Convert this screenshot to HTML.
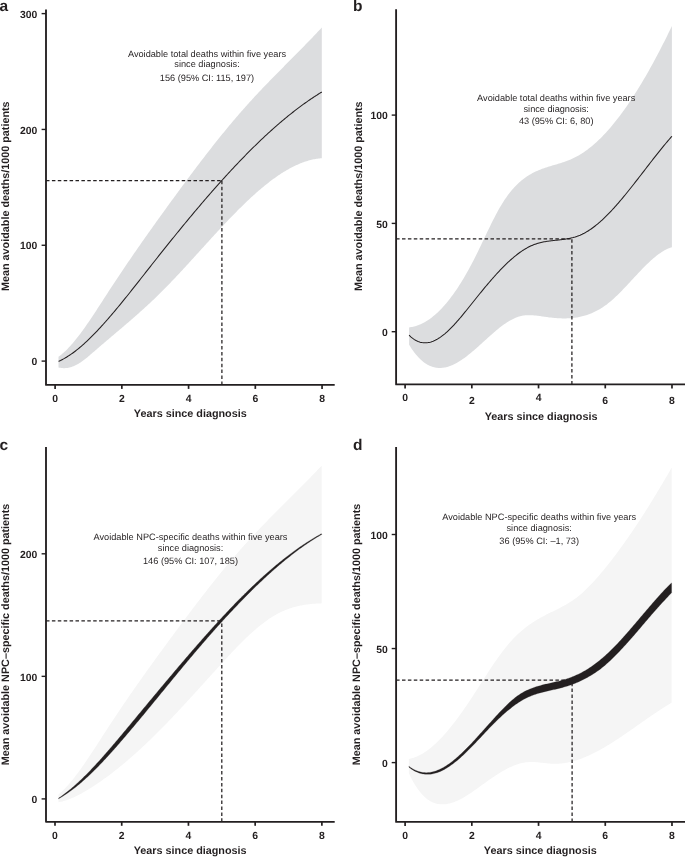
<!DOCTYPE html>
<html><head><meta charset="utf-8"><style>
html,body{margin:0;padding:0;background:#fff;}
svg{display:block;}
svg{will-change:transform;}
text{font-family:"Liberation Sans",sans-serif;fill:#231f20;text-rendering:geometricPrecision;}
.tk{font-size:10.4px;font-weight:bold;}
.ti{font-size:10.8px;font-weight:bold;}
.an{font-size:9.2px;}
.pl{font-size:15.5px;font-weight:bold;}
</style></head><body>
<svg width="685" height="857" viewBox="0 0 685 857">
<rect width="685" height="857" fill="#fff"/>
<path d="M58.50,356.77 L59.50,356.04 L60.50,355.26 L61.50,354.46 L62.50,353.61 L63.50,352.73 L64.50,351.82 L65.50,350.88 L66.50,349.91 L67.50,348.90 L68.50,347.86 L69.50,346.80 L70.50,345.71 L71.50,344.58 L72.50,343.44 L73.50,342.26 L74.50,341.07 L75.50,339.84 L76.50,338.60 L77.50,337.33 L78.50,336.04 L79.50,334.73 L80.50,333.41 L81.50,332.06 L82.50,330.69 L83.50,329.31 L84.50,327.91 L85.50,326.49 L86.50,325.06 L87.50,323.62 L88.50,322.16 L89.50,320.69 L90.50,319.21 L91.50,317.72 L92.50,316.22 L93.50,314.71 L94.50,313.20 L95.50,311.67 L96.50,310.14 L97.50,308.61 L98.50,307.07 L99.50,305.52 L100.50,303.98 L101.50,302.43 L102.50,300.88 L103.50,299.33 L104.50,297.78 L105.50,296.23 L106.50,294.68 L107.50,293.14 L108.50,291.60 L109.50,290.07 L110.50,288.54 L111.50,287.01 L112.50,285.49 L113.50,283.97 L114.50,282.45 L115.50,280.94 L116.50,279.43 L117.50,277.93 L118.50,276.43 L119.50,274.93 L120.50,273.43 L121.50,271.94 L122.50,270.46 L123.50,268.97 L124.50,267.49 L125.50,266.02 L126.50,264.54 L127.50,263.07 L128.50,261.61 L129.50,260.14 L130.50,258.68 L131.50,257.22 L132.50,255.77 L133.50,254.32 L134.50,252.87 L135.50,251.42 L136.50,249.98 L137.50,248.54 L138.50,247.10 L139.50,245.66 L140.50,244.23 L141.50,242.80 L142.50,241.37 L143.50,239.95 L144.50,238.52 L145.50,237.10 L146.50,235.68 L147.50,234.27 L148.50,232.85 L149.50,231.44 L150.50,230.03 L151.50,228.63 L152.50,227.22 L153.50,225.82 L154.50,224.42 L155.50,223.02 L156.50,221.62 L157.50,220.23 L158.50,218.84 L159.50,217.44 L160.50,216.05 L161.50,214.67 L162.50,213.28 L163.50,211.90 L164.50,210.51 L165.50,209.13 L166.50,207.75 L167.50,206.37 L168.50,204.99 L169.50,203.62 L170.50,202.24 L171.50,200.87 L172.50,199.50 L173.50,198.13 L174.50,196.76 L175.50,195.39 L176.50,194.02 L177.50,192.66 L178.50,191.30 L179.50,189.94 L180.50,188.58 L181.50,187.22 L182.50,185.86 L183.50,184.51 L184.50,183.16 L185.50,181.81 L186.50,180.46 L187.50,179.12 L188.50,177.78 L189.50,176.44 L190.50,175.10 L191.50,173.76 L192.50,172.43 L193.50,171.10 L194.50,169.77 L195.50,168.45 L196.50,167.12 L197.50,165.80 L198.50,164.49 L199.50,163.17 L200.50,161.86 L201.50,160.55 L202.50,159.25 L203.50,157.95 L204.50,156.65 L205.50,155.35 L206.50,154.06 L207.50,152.77 L208.50,151.48 L209.50,150.20 L210.50,148.92 L211.50,147.65 L212.50,146.37 L213.50,145.11 L214.50,143.84 L215.50,142.58 L216.50,141.32 L217.50,140.07 L218.50,138.82 L219.50,137.58 L220.50,136.33 L221.50,135.10 L222.50,133.86 L223.50,132.63 L224.50,131.41 L225.50,130.19 L226.50,128.97 L227.50,127.76 L228.50,126.55 L229.50,125.35 L230.50,124.15 L231.50,122.96 L232.50,121.77 L233.50,120.58 L234.50,119.40 L235.50,118.23 L236.50,117.06 L237.50,115.90 L238.50,114.74 L239.50,113.58 L240.50,112.43 L241.50,111.29 L242.50,110.15 L243.50,109.01 L244.50,107.88 L245.50,106.76 L246.50,105.64 L247.50,104.53 L248.50,103.42 L249.50,102.32 L250.50,101.22 L251.50,100.13 L252.50,99.04 L253.50,97.95 L254.50,96.87 L255.50,95.80 L256.50,94.73 L257.50,93.66 L258.50,92.59 L259.50,91.53 L260.50,90.48 L261.50,89.42 L262.50,88.37 L263.50,87.33 L264.50,86.28 L265.50,85.24 L266.50,84.21 L267.50,83.17 L268.50,82.14 L269.50,81.11 L270.50,80.08 L271.50,79.06 L272.50,78.03 L273.50,77.01 L274.50,75.99 L275.50,74.97 L276.50,73.96 L277.50,72.94 L278.50,71.93 L279.50,70.92 L280.50,69.91 L281.50,68.90 L282.50,67.89 L283.50,66.88 L284.50,65.87 L285.50,64.86 L286.50,63.86 L287.50,62.85 L288.50,61.84 L289.50,60.84 L290.50,59.83 L291.50,58.82 L292.50,57.81 L293.50,56.81 L294.50,55.80 L295.50,54.79 L296.50,53.78 L297.50,52.77 L298.50,51.75 L299.50,50.74 L300.50,49.72 L301.50,48.71 L302.50,47.69 L303.50,46.67 L304.50,45.64 L305.50,44.62 L306.50,43.59 L307.50,42.56 L308.50,41.53 L309.50,40.50 L310.50,39.46 L311.50,38.42 L312.50,37.38 L313.50,36.34 L314.50,35.29 L315.50,34.24 L316.50,33.18 L317.50,32.12 L318.50,31.06 L319.50,29.99 L320.50,28.92 L321.50,27.85 L321.80,27.53 L321.80,158.20 L321.50,158.22 L320.50,158.31 L319.50,158.41 L318.50,158.53 L317.50,158.67 L316.50,158.82 L315.50,158.99 L314.50,159.17 L313.50,159.37 L312.50,159.59 L311.50,159.82 L310.50,160.07 L309.50,160.33 L308.50,160.61 L307.50,160.90 L306.50,161.21 L305.50,161.54 L304.50,161.87 L303.50,162.23 L302.50,162.59 L301.50,162.97 L300.50,163.37 L299.50,163.78 L298.50,164.20 L297.50,164.64 L296.50,165.09 L295.50,165.55 L294.50,166.03 L293.50,166.52 L292.50,167.02 L291.50,167.54 L290.50,168.07 L289.50,168.61 L288.50,169.16 L287.50,169.73 L286.50,170.30 L285.50,170.89 L284.50,171.50 L283.50,172.11 L282.50,172.73 L281.50,173.37 L280.50,174.02 L279.50,174.68 L278.50,175.35 L277.50,176.03 L276.50,176.72 L275.50,177.42 L274.50,178.14 L273.50,178.86 L272.50,179.60 L271.50,180.34 L270.50,181.09 L269.50,181.86 L268.50,182.63 L267.50,183.41 L266.50,184.20 L265.50,185.00 L264.50,185.81 L263.50,186.63 L262.50,187.46 L261.50,188.30 L260.50,189.14 L259.50,190.00 L258.50,190.86 L257.50,191.73 L256.50,192.61 L255.50,193.49 L254.50,194.39 L253.50,195.29 L252.50,196.20 L251.50,197.11 L250.50,198.04 L249.50,198.97 L248.50,199.90 L247.50,200.85 L246.50,201.80 L245.50,202.75 L244.50,203.72 L243.50,204.68 L242.50,205.66 L241.50,206.64 L240.50,207.63 L239.50,208.62 L238.50,209.62 L237.50,210.62 L236.50,211.63 L235.50,212.64 L234.50,213.66 L233.50,214.68 L232.50,215.71 L231.50,216.74 L230.50,217.78 L229.50,218.82 L228.50,219.87 L227.50,220.91 L226.50,221.97 L225.50,223.02 L224.50,224.08 L223.50,225.15 L222.50,226.21 L221.50,227.28 L220.50,228.35 L219.50,229.43 L218.50,230.51 L217.50,231.59 L216.50,232.67 L215.50,233.76 L214.50,234.84 L213.50,235.93 L212.50,237.02 L211.50,238.12 L210.50,239.21 L209.50,240.31 L208.50,241.40 L207.50,242.50 L206.50,243.60 L205.50,244.70 L204.50,245.80 L203.50,246.90 L202.50,248.00 L201.50,249.11 L200.50,250.21 L199.50,251.31 L198.50,252.41 L197.50,253.51 L196.50,254.62 L195.50,255.72 L194.50,256.82 L193.50,257.92 L192.50,259.02 L191.50,260.11 L190.50,261.21 L189.50,262.30 L188.50,263.40 L187.50,264.49 L186.50,265.58 L185.50,266.67 L184.50,267.75 L183.50,268.84 L182.50,269.92 L181.50,271.00 L180.50,272.07 L179.50,273.15 L178.50,274.22 L177.50,275.29 L176.50,276.35 L175.50,277.41 L174.50,278.47 L173.50,279.52 L172.50,280.57 L171.50,281.62 L170.50,282.66 L169.50,283.70 L168.50,284.73 L167.50,285.76 L166.50,286.79 L165.50,287.81 L164.50,288.83 L163.50,289.84 L162.50,290.84 L161.50,291.84 L160.50,292.84 L159.50,293.82 L158.50,294.81 L157.50,295.79 L156.50,296.76 L155.50,297.72 L154.50,298.68 L153.50,299.64 L152.50,300.59 L151.50,301.53 L150.50,302.47 L149.50,303.41 L148.50,304.34 L147.50,305.26 L146.50,306.18 L145.50,307.10 L144.50,308.01 L143.50,308.92 L142.50,309.82 L141.50,310.73 L140.50,311.62 L139.50,312.51 L138.50,313.40 L137.50,314.29 L136.50,315.17 L135.50,316.05 L134.50,316.93 L133.50,317.80 L132.50,318.68 L131.50,319.54 L130.50,320.41 L129.50,321.28 L128.50,322.14 L127.50,323.00 L126.50,323.86 L125.50,324.71 L124.50,325.57 L123.50,326.42 L122.50,327.27 L121.50,328.13 L120.50,328.98 L119.50,329.82 L118.50,330.67 L117.50,331.52 L116.50,332.37 L115.50,333.21 L114.50,334.06 L113.50,334.91 L112.50,335.75 L111.50,336.60 L110.50,337.45 L109.50,338.29 L108.50,339.14 L107.50,339.99 L106.50,340.84 L105.50,341.69 L104.50,342.54 L103.50,343.39 L102.50,344.24 L101.50,345.10 L100.50,345.95 L99.50,346.81 L98.50,347.67 L97.50,348.53 L96.50,349.40 L95.50,350.26 L94.50,351.13 L93.50,352.00 L92.50,352.87 L91.50,353.74 L90.50,354.61 L89.50,355.46 L88.50,356.31 L87.50,357.15 L86.50,357.97 L85.50,358.77 L84.50,359.56 L83.50,360.32 L82.50,361.05 L81.50,361.77 L80.50,362.45 L79.50,363.10 L78.50,363.71 L77.50,364.29 L76.50,364.83 L75.50,365.33 L74.50,365.79 L73.50,366.21 L72.50,366.59 L71.50,366.93 L70.50,367.23 L69.50,367.49 L68.50,367.71 L67.50,367.88 L66.50,368.01 L65.50,368.10 L64.50,368.14 L63.50,368.14 L62.50,368.10 L61.50,368.01 L60.50,367.87 L59.50,367.69 L58.50,367.46 Z" fill="#dcdddf"/>
<path d="M58.50,361.37 L59.50,360.92 L60.50,360.45 L61.50,359.95 L62.50,359.44 L63.50,358.91 L64.50,358.35 L65.50,357.77 L66.50,357.18 L67.50,356.56 L68.50,355.93 L69.50,355.27 L70.50,354.60 L71.50,353.91 L72.50,353.20 L73.50,352.47 L74.50,351.73 L75.50,350.96 L76.50,350.18 L77.50,349.39 L78.50,348.58 L79.50,347.75 L80.50,346.91 L81.50,346.05 L82.50,345.18 L83.50,344.29 L84.50,343.39 L85.50,342.47 L86.50,341.54 L87.50,340.60 L88.50,339.64 L89.50,338.68 L90.50,337.70 L91.50,336.71 L92.50,335.70 L93.50,334.69 L94.50,333.66 L95.50,332.63 L96.50,331.58 L97.50,330.53 L98.50,329.46 L99.50,328.39 L100.50,327.30 L101.50,326.21 L102.50,325.11 L103.50,324.00 L104.50,322.88 L105.50,321.76 L106.50,320.63 L107.50,319.49 L108.50,318.34 L109.50,317.19 L110.50,316.03 L111.50,314.86 L112.50,313.69 L113.50,312.51 L114.50,311.33 L115.50,310.14 L116.50,308.94 L117.50,307.74 L118.50,306.53 L119.50,305.32 L120.50,304.10 L121.50,302.88 L122.50,301.65 L123.50,300.42 L124.50,299.19 L125.50,297.95 L126.50,296.71 L127.50,295.47 L128.50,294.22 L129.50,292.97 L130.50,291.71 L131.50,290.45 L132.50,289.20 L133.50,287.93 L134.50,286.67 L135.50,285.40 L136.50,284.14 L137.50,282.87 L138.50,281.60 L139.50,280.33 L140.50,279.05 L141.50,277.78 L142.50,276.51 L143.50,275.23 L144.50,273.96 L145.50,272.69 L146.50,271.41 L147.50,270.14 L148.50,268.87 L149.50,267.59 L150.50,266.32 L151.50,265.05 L152.50,263.79 L153.50,262.52 L154.50,261.25 L155.50,259.99 L156.50,258.72 L157.50,257.46 L158.50,256.20 L159.50,254.94 L160.50,253.68 L161.50,252.43 L162.50,251.17 L163.50,249.92 L164.50,248.66 L165.50,247.41 L166.50,246.16 L167.50,244.92 L168.50,243.67 L169.50,242.43 L170.50,241.18 L171.50,239.94 L172.50,238.70 L173.50,237.47 L174.50,236.23 L175.50,235.00 L176.50,233.77 L177.50,232.54 L178.50,231.31 L179.50,230.08 L180.50,228.86 L181.50,227.64 L182.50,226.42 L183.50,225.20 L184.50,223.99 L185.50,222.77 L186.50,221.56 L187.50,220.35 L188.50,219.15 L189.50,217.94 L190.50,216.74 L191.50,215.54 L192.50,214.35 L193.50,213.15 L194.50,211.96 L195.50,210.77 L196.50,209.58 L197.50,208.40 L198.50,207.22 L199.50,206.04 L200.50,204.86 L201.50,203.69 L202.50,202.52 L203.50,201.35 L204.50,200.19 L205.50,199.03 L206.50,197.87 L207.50,196.71 L208.50,195.56 L209.50,194.41 L210.50,193.26 L211.50,192.11 L212.50,190.97 L213.50,189.84 L214.50,188.70 L215.50,187.57 L216.50,186.44 L217.50,185.31 L218.50,184.19 L219.50,183.07 L220.50,181.96 L221.50,180.85 L222.50,179.74 L223.50,178.63 L224.50,177.53 L225.50,176.43 L226.50,175.34 L227.50,174.25 L228.50,173.16 L229.50,172.07 L230.50,170.99 L231.50,169.92 L232.50,168.84 L233.50,167.77 L234.50,166.71 L235.50,165.65 L236.50,164.59 L237.50,163.54 L238.50,162.49 L239.50,161.44 L240.50,160.40 L241.50,159.36 L242.50,158.33 L243.50,157.30 L244.50,156.27 L245.50,155.25 L246.50,154.23 L247.50,153.22 L248.50,152.21 L249.50,151.21 L250.50,150.21 L251.50,149.21 L252.50,148.22 L253.50,147.23 L254.50,146.25 L255.50,145.27 L256.50,144.30 L257.50,143.33 L258.50,142.36 L259.50,141.40 L260.50,140.45 L261.50,139.49 L262.50,138.55 L263.50,137.61 L264.50,136.67 L265.50,135.74 L266.50,134.81 L267.50,133.89 L268.50,132.97 L269.50,132.06 L270.50,131.15 L271.50,130.25 L272.50,129.35 L273.50,128.46 L274.50,127.57 L275.50,126.69 L276.50,125.81 L277.50,124.94 L278.50,124.08 L279.50,123.21 L280.50,122.36 L281.50,121.51 L282.50,120.66 L283.50,119.82 L284.50,118.99 L285.50,118.16 L286.50,117.33 L287.50,116.52 L288.50,115.70 L289.50,114.90 L290.50,114.09 L291.50,113.30 L292.50,112.51 L293.50,111.72 L294.50,110.95 L295.50,110.17 L296.50,109.41 L297.50,108.64 L298.50,107.89 L299.50,107.14 L300.50,106.39 L301.50,105.66 L302.50,104.93 L303.50,104.20 L304.50,103.48 L305.50,102.77 L306.50,102.06 L307.50,101.36 L308.50,100.66 L309.50,99.97 L310.50,99.29 L311.50,98.61 L312.50,97.94 L313.50,97.28 L314.50,96.62 L315.50,95.97 L316.50,95.33 L317.50,94.69 L318.50,94.06 L319.50,93.43 L320.50,92.82 L321.50,92.20 L321.80,92.02" fill="none" stroke="#231f20" stroke-width="1.05"/>
<path d="M46.00,180.50 H221.90" fill="none" stroke="#231f20" stroke-width="1.25" stroke-dasharray="3.5 2.4"/>
<path d="M221.90,384.90 V180.50" fill="none" stroke="#231f20" stroke-width="1.25" stroke-dasharray="3.5 2.4"/>
<path d="M46.00,9.60 V384.90 H334.70" fill="none" stroke="#231f20" stroke-width="1.85" stroke-linejoin="round"/>
<path d="M41.60,361.10 H46.00" stroke="#231f20" stroke-width="1.4"/>
<text x="37.40" y="365.30" class="tk" text-anchor="end">0</text>
<path d="M41.60,245.27 H46.00" stroke="#231f20" stroke-width="1.4"/>
<text x="37.40" y="249.47" class="tk" text-anchor="end">100</text>
<path d="M41.60,129.44 H46.00" stroke="#231f20" stroke-width="1.4"/>
<text x="37.40" y="133.64" class="tk" text-anchor="end">200</text>
<path d="M41.60,13.61 H46.00" stroke="#231f20" stroke-width="1.4"/>
<text x="37.40" y="17.81" class="tk" text-anchor="end">300</text>
<path d="M55.10,384.90 V388.90" stroke="#231f20" stroke-width="1.7"/>
<text x="55.10" y="401.80" class="tk" text-anchor="middle">0</text>
<path d="M121.84,384.90 V388.90" stroke="#231f20" stroke-width="1.7"/>
<text x="121.84" y="401.80" class="tk" text-anchor="middle">2</text>
<path d="M188.58,384.90 V388.90" stroke="#231f20" stroke-width="1.7"/>
<text x="188.58" y="401.80" class="tk" text-anchor="middle">4</text>
<path d="M255.32,384.90 V388.90" stroke="#231f20" stroke-width="1.7"/>
<text x="255.32" y="401.80" class="tk" text-anchor="middle">6</text>
<path d="M322.06,384.90 V388.90" stroke="#231f20" stroke-width="1.7"/>
<text x="322.06" y="401.80" class="tk" text-anchor="middle">8</text>
<text x="190.28" y="416.90" class="ti" text-anchor="middle">Years since diagnosis</text>
<text transform="translate(9.00,196.20) rotate(-90)" class="ti" text-anchor="middle">Mean avoidable deaths/1000 patients</text>
<text x="207.00" y="56.70" class="an" text-anchor="middle">Avoidable total deaths within five years</text>
<text x="207.00" y="67.40" class="an" text-anchor="middle">since diagnosis:</text>
<text x="207.00" y="80.70" class="an" text-anchor="middle">156 (95% CI: 115, 197)</text>
<text x="-0.60" y="10.90" class="pl">a</text>
<path d="M409.10,327.39 L410.10,327.27 L411.10,327.12 L412.10,326.94 L413.10,326.73 L414.10,326.50 L415.10,326.23 L416.10,325.93 L417.10,325.60 L418.10,325.25 L419.10,324.86 L420.10,324.44 L421.10,324.00 L422.10,323.52 L423.10,323.02 L424.10,322.49 L425.10,321.92 L426.10,321.33 L427.10,320.71 L428.10,320.06 L429.10,319.38 L430.10,318.67 L431.10,317.93 L432.10,317.16 L433.10,316.37 L434.10,315.54 L435.10,314.69 L436.10,313.80 L437.10,312.89 L438.10,311.95 L439.10,310.98 L440.10,309.98 L441.10,308.95 L442.10,307.90 L443.10,306.81 L444.10,305.70 L445.10,304.56 L446.10,303.39 L447.10,302.19 L448.10,300.96 L449.10,299.71 L450.10,298.42 L451.10,297.11 L452.10,295.77 L453.10,294.40 L454.10,293.01 L455.10,291.58 L456.10,290.13 L457.10,288.65 L458.10,287.14 L459.10,285.60 L460.10,284.04 L461.10,282.45 L462.10,280.82 L463.10,279.18 L464.10,277.50 L465.10,275.80 L466.10,274.07 L467.10,272.31 L468.10,270.52 L469.10,268.71 L470.10,266.86 L471.10,264.99 L472.10,263.10 L473.10,261.17 L474.10,259.22 L475.10,257.24 L476.10,255.24 L477.10,253.21 L478.10,251.17 L479.10,249.10 L480.10,247.03 L481.10,244.94 L482.10,242.84 L483.10,240.74 L484.10,238.64 L485.10,236.53 L486.10,234.44 L487.10,232.34 L488.10,230.26 L489.10,228.19 L490.10,226.13 L491.10,224.10 L492.10,222.08 L493.10,220.09 L494.10,218.13 L495.10,216.19 L496.10,214.29 L497.10,212.42 L498.10,210.60 L499.10,208.81 L500.10,207.07 L501.10,205.38 L502.10,203.73 L503.10,202.14 L504.10,200.59 L505.10,199.09 L506.10,197.64 L507.10,196.23 L508.10,194.87 L509.10,193.55 L510.10,192.28 L511.10,191.05 L512.10,189.85 L513.10,188.70 L514.10,187.59 L515.10,186.52 L516.10,185.48 L517.10,184.49 L518.10,183.52 L519.10,182.60 L520.10,181.71 L521.10,180.85 L522.10,180.02 L523.10,179.23 L524.10,178.46 L525.10,177.73 L526.10,177.03 L527.10,176.35 L528.10,175.70 L529.10,175.08 L530.10,174.48 L531.10,173.90 L532.10,173.35 L533.10,172.82 L534.10,172.31 L535.10,171.82 L536.10,171.35 L537.10,170.90 L538.10,170.46 L539.10,170.04 L540.10,169.64 L541.10,169.25 L542.10,168.87 L543.10,168.51 L544.10,168.15 L545.10,167.81 L546.10,167.48 L547.10,167.15 L548.10,166.83 L549.10,166.52 L550.10,166.21 L551.10,165.91 L552.10,165.61 L553.10,165.31 L554.10,165.02 L555.10,164.72 L556.10,164.42 L557.10,164.13 L558.10,163.83 L559.10,163.52 L560.10,163.21 L561.10,162.90 L562.10,162.58 L563.10,162.25 L564.10,161.91 L565.10,161.57 L566.10,161.21 L567.10,160.84 L568.10,160.46 L569.10,160.07 L570.10,159.66 L571.10,159.24 L572.10,158.79 L573.10,158.34 L574.10,157.86 L575.10,157.37 L576.10,156.85 L577.10,156.32 L578.10,155.76 L579.10,155.19 L580.10,154.59 L581.10,153.98 L582.10,153.34 L583.10,152.69 L584.10,152.01 L585.10,151.32 L586.10,150.61 L587.10,149.88 L588.10,149.12 L589.10,148.35 L590.10,147.57 L591.10,146.76 L592.10,145.93 L593.10,145.08 L594.10,144.22 L595.10,143.34 L596.10,142.43 L597.10,141.51 L598.10,140.57 L599.10,139.62 L600.10,138.64 L601.10,137.65 L602.10,136.64 L603.10,135.61 L604.10,134.56 L605.10,133.49 L606.10,132.41 L607.10,131.31 L608.10,130.19 L609.10,129.05 L610.10,127.90 L611.10,126.73 L612.10,125.54 L613.10,124.34 L614.10,123.11 L615.10,121.87 L616.10,120.62 L617.10,119.34 L618.10,118.05 L619.10,116.74 L620.10,115.42 L621.10,114.08 L622.10,112.72 L623.10,111.35 L624.10,109.96 L625.10,108.55 L626.10,107.13 L627.10,105.69 L628.10,104.24 L629.10,102.77 L630.10,101.28 L631.10,99.78 L632.10,98.26 L633.10,96.73 L634.10,95.18 L635.10,93.62 L636.10,92.04 L637.10,90.44 L638.10,88.83 L639.10,87.21 L640.10,85.57 L641.10,83.91 L642.10,82.24 L643.10,80.56 L644.10,78.86 L645.10,77.14 L646.10,75.42 L647.10,73.67 L648.10,71.91 L649.10,70.14 L650.10,68.36 L651.10,66.56 L652.10,64.74 L653.10,62.91 L654.10,61.07 L655.10,59.21 L656.10,57.34 L657.10,55.46 L658.10,53.56 L659.10,51.65 L660.10,49.73 L661.10,47.79 L662.10,45.84 L663.10,43.87 L664.10,41.89 L665.10,39.90 L666.10,37.90 L667.10,35.88 L668.10,33.85 L669.10,31.81 L670.10,29.76 L671.10,27.69 L671.90,26.03 L671.90,247.23 L671.10,247.48 L670.10,247.82 L669.10,248.19 L668.10,248.61 L667.10,249.06 L666.10,249.54 L665.10,250.06 L664.10,250.61 L663.10,251.20 L662.10,251.81 L661.10,252.46 L660.10,253.14 L659.10,253.84 L658.10,254.57 L657.10,255.33 L656.10,256.11 L655.10,256.91 L654.10,257.74 L653.10,258.59 L652.10,259.46 L651.10,260.36 L650.10,261.27 L649.10,262.20 L648.10,263.14 L647.10,264.10 L646.10,265.08 L645.10,266.07 L644.10,267.07 L643.10,268.09 L642.10,269.12 L641.10,270.15 L640.10,271.20 L639.10,272.25 L638.10,273.31 L637.10,274.38 L636.10,275.45 L635.10,276.53 L634.10,277.61 L633.10,278.69 L632.10,279.77 L631.10,280.85 L630.10,281.93 L629.10,283.01 L628.10,284.08 L627.10,285.15 L626.10,286.22 L625.10,287.28 L624.10,288.33 L623.10,289.37 L622.10,290.41 L621.10,291.43 L620.10,292.44 L619.10,293.45 L618.10,294.43 L617.10,295.41 L616.10,296.36 L615.10,297.31 L614.10,298.23 L613.10,299.14 L612.10,300.02 L611.10,300.89 L610.10,301.74 L609.10,302.56 L608.10,303.36 L607.10,304.14 L606.10,304.89 L605.10,305.61 L604.10,306.32 L603.10,306.99 L602.10,307.65 L601.10,308.28 L600.10,308.89 L599.10,309.48 L598.10,310.04 L597.10,310.59 L596.10,311.11 L595.10,311.61 L594.10,312.09 L593.10,312.55 L592.10,312.99 L591.10,313.41 L590.10,313.81 L589.10,314.19 L588.10,314.55 L587.10,314.89 L586.10,315.22 L585.10,315.53 L584.10,315.82 L583.10,316.09 L582.10,316.34 L581.10,316.58 L580.10,316.81 L579.10,317.01 L578.10,317.20 L577.10,317.38 L576.10,317.54 L575.10,317.69 L574.10,317.82 L573.10,317.93 L572.10,318.04 L571.10,318.13 L570.10,318.21 L569.10,318.27 L568.10,318.32 L567.10,318.36 L566.10,318.39 L565.10,318.41 L564.10,318.41 L563.10,318.41 L562.10,318.39 L561.10,318.37 L560.10,318.33 L559.10,318.29 L558.10,318.23 L557.10,318.17 L556.10,318.10 L555.10,318.02 L554.10,317.93 L553.10,317.83 L552.10,317.73 L551.10,317.62 L550.10,317.51 L549.10,317.38 L548.10,317.25 L547.10,317.12 L546.10,316.98 L545.10,316.84 L544.10,316.69 L543.10,316.54 L542.10,316.39 L541.10,316.24 L540.10,316.10 L539.10,315.96 L538.10,315.82 L537.10,315.70 L536.10,315.58 L535.10,315.47 L534.10,315.38 L533.10,315.30 L532.10,315.24 L531.10,315.19 L530.10,315.16 L529.10,315.15 L528.10,315.16 L527.10,315.20 L526.10,315.26 L525.10,315.35 L524.10,315.47 L523.10,315.61 L522.10,315.79 L521.10,316.00 L520.10,316.24 L519.10,316.52 L518.10,316.83 L517.10,317.18 L516.10,317.56 L515.10,317.97 L514.10,318.41 L513.10,318.89 L512.10,319.39 L511.10,319.92 L510.10,320.48 L509.10,321.06 L508.10,321.67 L507.10,322.30 L506.10,322.96 L505.10,323.64 L504.10,324.34 L503.10,325.05 L502.10,325.79 L501.10,326.55 L500.10,327.32 L499.10,328.11 L498.10,328.92 L497.10,329.73 L496.10,330.57 L495.10,331.41 L494.10,332.26 L493.10,333.13 L492.10,334.00 L491.10,334.88 L490.10,335.77 L489.10,336.67 L488.10,337.57 L487.10,338.47 L486.10,339.38 L485.10,340.29 L484.10,341.20 L483.10,342.11 L482.10,343.02 L481.10,343.93 L480.10,344.84 L479.10,345.74 L478.10,346.64 L477.10,347.53 L476.10,348.41 L475.10,349.29 L474.10,350.16 L473.10,351.01 L472.10,351.86 L471.10,352.70 L470.10,353.52 L469.10,354.33 L468.10,355.12 L467.10,355.90 L466.10,356.67 L465.10,357.41 L464.10,358.14 L463.10,358.85 L462.10,359.54 L461.10,360.21 L460.10,360.86 L459.10,361.49 L458.10,362.09 L457.10,362.67 L456.10,363.22 L455.10,363.75 L454.10,364.25 L453.10,364.72 L452.10,365.17 L451.10,365.58 L450.10,365.97 L449.10,366.32 L448.10,366.64 L447.10,366.93 L446.10,367.19 L445.10,367.41 L444.10,367.59 L443.10,367.74 L442.10,367.85 L441.10,367.92 L440.10,367.96 L439.10,367.95 L438.10,367.90 L437.10,367.81 L436.10,367.68 L435.10,367.50 L434.10,367.28 L433.10,367.02 L432.10,366.70 L431.10,366.34 L430.10,365.94 L429.10,365.48 L428.10,364.97 L427.10,364.42 L426.10,363.81 L425.10,363.15 L424.10,362.43 L423.10,361.66 L422.10,360.84 L421.10,359.96 L420.10,359.02 L419.10,358.03 L418.10,356.98 L417.10,355.86 L416.10,354.69 L415.10,353.46 L414.10,352.16 L413.10,350.80 L412.10,349.38 L411.10,347.89 L410.10,346.33 L409.10,344.71 Z" fill="#dcdddf"/>
<path d="M409.10,335.20 L410.10,336.17 L411.10,337.07 L412.10,337.90 L413.10,338.66 L414.10,339.36 L415.10,339.98 L416.10,340.55 L417.10,341.04 L418.10,341.48 L419.10,341.85 L420.10,342.16 L421.10,342.41 L422.10,342.60 L423.10,342.73 L424.10,342.81 L425.10,342.84 L426.10,342.81 L427.10,342.72 L428.10,342.59 L429.10,342.40 L430.10,342.17 L431.10,341.89 L432.10,341.56 L433.10,341.18 L434.10,340.76 L435.10,340.30 L436.10,339.79 L437.10,339.24 L438.10,338.66 L439.10,338.03 L440.10,337.37 L441.10,336.67 L442.10,335.93 L443.10,335.16 L444.10,334.36 L445.10,333.53 L446.10,332.66 L447.10,331.77 L448.10,330.84 L449.10,329.89 L450.10,328.92 L451.10,327.92 L452.10,326.89 L453.10,325.85 L454.10,324.78 L455.10,323.69 L456.10,322.58 L457.10,321.46 L458.10,320.32 L459.10,319.16 L460.10,317.99 L461.10,316.80 L462.10,315.60 L463.10,314.40 L464.10,313.18 L465.10,311.95 L466.10,310.72 L467.10,309.48 L468.10,308.24 L469.10,306.99 L470.10,305.74 L471.10,304.48 L472.10,303.23 L473.10,301.98 L474.10,300.73 L475.10,299.48 L476.10,298.23 L477.10,296.99 L478.10,295.75 L479.10,294.52 L480.10,293.29 L481.10,292.06 L482.10,290.84 L483.10,289.62 L484.10,288.41 L485.10,287.21 L486.10,286.02 L487.10,284.83 L488.10,283.65 L489.10,282.47 L490.10,281.31 L491.10,280.15 L492.10,279.00 L493.10,277.87 L494.10,276.74 L495.10,275.62 L496.10,274.52 L497.10,273.42 L498.10,272.34 L499.10,271.27 L500.10,270.21 L501.10,269.16 L502.10,268.13 L503.10,267.11 L504.10,266.11 L505.10,265.12 L506.10,264.15 L507.10,263.19 L508.10,262.24 L509.10,261.32 L510.10,260.41 L511.10,259.51 L512.10,258.64 L513.10,257.78 L514.10,256.94 L515.10,256.12 L516.10,255.31 L517.10,254.53 L518.10,253.77 L519.10,253.02 L520.10,252.30 L521.10,251.60 L522.10,250.92 L523.10,250.26 L524.10,249.63 L525.10,249.02 L526.10,248.43 L527.10,247.86 L528.10,247.32 L529.10,246.80 L530.10,246.31 L531.10,245.84 L532.10,245.40 L533.10,244.98 L534.10,244.59 L535.10,244.23 L536.10,243.88 L537.10,243.56 L538.10,243.26 L539.10,242.99 L540.10,242.72 L541.10,242.48 L542.10,242.26 L543.10,242.05 L544.10,241.85 L545.10,241.67 L546.10,241.50 L547.10,241.34 L548.10,241.19 L549.10,241.05 L550.10,240.92 L551.10,240.79 L552.10,240.67 L553.10,240.56 L554.10,240.44 L555.10,240.34 L556.10,240.23 L557.10,240.12 L558.10,240.01 L559.10,239.90 L560.10,239.79 L561.10,239.67 L562.10,239.54 L563.10,239.41 L564.10,239.28 L565.10,239.13 L566.10,238.97 L567.10,238.81 L568.10,238.63 L569.10,238.44 L570.10,238.23 L571.10,238.01 L572.10,237.77 L573.10,237.52 L574.10,237.24 L575.10,236.95 L576.10,236.63 L577.10,236.30 L578.10,235.94 L579.10,235.56 L580.10,235.15 L581.10,234.71 L582.10,234.25 L583.10,233.76 L584.10,233.25 L585.10,232.71 L586.10,232.14 L587.10,231.55 L588.10,230.94 L589.10,230.30 L590.10,229.64 L591.10,228.95 L592.10,228.25 L593.10,227.52 L594.10,226.76 L595.10,225.99 L596.10,225.20 L597.10,224.38 L598.10,223.55 L599.10,222.69 L600.10,221.82 L601.10,220.93 L602.10,220.02 L603.10,219.09 L604.10,218.14 L605.10,217.18 L606.10,216.20 L607.10,215.20 L608.10,214.19 L609.10,213.16 L610.10,212.12 L611.10,211.06 L612.10,209.99 L613.10,208.91 L614.10,207.81 L615.10,206.70 L616.10,205.57 L617.10,204.44 L618.10,203.29 L619.10,202.13 L620.10,200.96 L621.10,199.78 L622.10,198.60 L623.10,197.40 L624.10,196.19 L625.10,194.97 L626.10,193.75 L627.10,192.52 L628.10,191.28 L629.10,190.03 L630.10,188.78 L631.10,187.52 L632.10,186.26 L633.10,184.99 L634.10,183.71 L635.10,182.44 L636.10,181.15 L637.10,179.87 L638.10,178.58 L639.10,177.29 L640.10,175.99 L641.10,174.70 L642.10,173.40 L643.10,172.11 L644.10,170.81 L645.10,169.51 L646.10,168.21 L647.10,166.92 L648.10,165.62 L649.10,164.33 L650.10,163.04 L651.10,161.75 L652.10,160.46 L653.10,159.18 L654.10,157.90 L655.10,156.63 L656.10,155.36 L657.10,154.09 L658.10,152.83 L659.10,151.58 L660.10,150.33 L661.10,149.09 L662.10,147.86 L663.10,146.63 L664.10,145.42 L665.10,144.21 L666.10,143.01 L667.10,141.82 L668.10,140.64 L669.10,139.47 L670.10,138.31 L671.10,137.16 L671.90,136.25" fill="none" stroke="#231f20" stroke-width="1.05"/>
<path d="M396.10,238.90 H571.90" fill="none" stroke="#231f20" stroke-width="1.25" stroke-dasharray="3.5 2.4"/>
<path d="M571.90,384.40 V238.90" fill="none" stroke="#231f20" stroke-width="1.25" stroke-dasharray="3.5 2.4"/>
<path d="M396.10,9.30 V384.40 H685.50" fill="none" stroke="#231f20" stroke-width="1.85" stroke-linejoin="round"/>
<path d="M391.70,331.70 H396.10" stroke="#231f20" stroke-width="1.4"/>
<text x="387.90" y="335.90" class="tk" text-anchor="end">0</text>
<path d="M391.70,223.40 H396.10" stroke="#231f20" stroke-width="1.4"/>
<text x="387.90" y="227.60" class="tk" text-anchor="end">50</text>
<path d="M391.70,115.10 H396.10" stroke="#231f20" stroke-width="1.4"/>
<text x="387.90" y="119.30" class="tk" text-anchor="end">100</text>
<path d="M405.10,384.40 V388.40" stroke="#231f20" stroke-width="1.7"/>
<text x="405.10" y="401.30" class="tk" text-anchor="middle">0</text>
<path d="M471.82,384.40 V388.40" stroke="#231f20" stroke-width="1.7"/>
<text x="471.82" y="404.10" class="tk" text-anchor="middle">2</text>
<path d="M538.54,384.40 V388.40" stroke="#231f20" stroke-width="1.7"/>
<text x="538.54" y="401.30" class="tk" text-anchor="middle">4</text>
<path d="M605.26,384.40 V388.40" stroke="#231f20" stroke-width="1.7"/>
<text x="605.26" y="404.10" class="tk" text-anchor="middle">6</text>
<path d="M671.98,384.40 V388.40" stroke="#231f20" stroke-width="1.7"/>
<text x="671.98" y="404.10" class="tk" text-anchor="middle">8</text>
<text x="541.04" y="419.70" class="ti" text-anchor="middle">Years since diagnosis</text>
<text transform="translate(362.20,196.20) rotate(-90)" class="ti" text-anchor="middle">Mean avoidable deaths/1000 patients</text>
<text x="556.20" y="101.30" class="an" text-anchor="middle">Avoidable total deaths within five years</text>
<text x="556.20" y="112.20" class="an" text-anchor="middle">since diagnosis:</text>
<text x="556.20" y="124.40" class="an" text-anchor="middle">43 (95% CI: 6, 80)</text>
<text x="353.00" y="11.00" class="pl">b</text>
<path d="M58.40,794.62 L59.40,793.76 L60.40,792.87 L61.40,791.94 L62.40,790.98 L63.40,790.00 L64.40,788.98 L65.40,787.94 L66.40,786.87 L67.40,785.77 L68.40,784.64 L69.40,783.49 L70.40,782.32 L71.40,781.12 L72.40,779.90 L73.40,778.66 L74.40,777.39 L75.40,776.10 L76.40,774.80 L77.40,773.47 L78.40,772.13 L79.40,770.77 L80.40,769.39 L81.40,768.00 L82.40,766.59 L83.40,765.16 L84.40,763.73 L85.40,762.28 L86.40,760.81 L87.40,759.34 L88.40,757.85 L89.40,756.36 L90.40,754.86 L91.40,753.34 L92.40,751.82 L93.40,750.30 L94.40,748.76 L95.40,747.23 L96.40,745.68 L97.40,744.14 L98.40,742.59 L99.40,741.03 L100.40,739.48 L101.40,737.93 L102.40,736.37 L103.40,734.82 L104.40,733.27 L105.40,731.72 L106.40,730.17 L107.40,728.63 L108.40,727.10 L109.40,725.56 L110.40,724.03 L111.40,722.51 L112.40,720.99 L113.40,719.48 L114.40,717.97 L115.40,716.46 L116.40,714.96 L117.40,713.46 L118.40,711.97 L119.40,710.48 L120.40,709.00 L121.40,707.52 L122.40,706.04 L123.40,704.57 L124.40,703.10 L125.40,701.63 L126.40,700.17 L127.40,698.71 L128.40,697.26 L129.40,695.81 L130.40,694.36 L131.40,692.92 L132.40,691.48 L133.40,690.04 L134.40,688.60 L135.40,687.17 L136.40,685.75 L137.40,684.32 L138.40,682.90 L139.40,681.48 L140.40,680.06 L141.40,678.65 L142.40,677.24 L143.40,675.83 L144.40,674.43 L145.40,673.02 L146.40,671.62 L147.40,670.23 L148.40,668.83 L149.40,667.44 L150.40,666.05 L151.40,664.66 L152.40,663.27 L153.40,661.89 L154.40,660.50 L155.40,659.12 L156.40,657.75 L157.40,656.37 L158.40,654.99 L159.40,653.62 L160.40,652.25 L161.40,650.88 L162.40,649.51 L163.40,648.14 L164.40,646.78 L165.40,645.41 L166.40,644.05 L167.40,642.69 L168.40,641.33 L169.40,639.97 L170.40,638.61 L171.40,637.26 L172.40,635.90 L173.40,634.54 L174.40,633.19 L175.40,631.84 L176.40,630.49 L177.40,629.14 L178.40,627.79 L179.40,626.45 L180.40,625.10 L181.40,623.76 L182.40,622.42 L183.40,621.08 L184.40,619.74 L185.40,618.40 L186.40,617.07 L187.40,615.74 L188.40,614.41 L189.40,613.08 L190.40,611.76 L191.40,610.43 L192.40,609.11 L193.40,607.80 L194.40,606.48 L195.40,605.17 L196.40,603.86 L197.40,602.55 L198.40,601.24 L199.40,599.94 L200.40,598.64 L201.40,597.34 L202.40,596.05 L203.40,594.76 L204.40,593.47 L205.40,592.18 L206.40,590.90 L207.40,589.62 L208.40,588.35 L209.40,587.08 L210.40,585.81 L211.40,584.54 L212.40,583.28 L213.40,582.02 L214.40,580.77 L215.40,579.52 L216.40,578.27 L217.40,577.03 L218.40,575.79 L219.40,574.55 L220.40,573.32 L221.40,572.09 L222.40,570.87 L223.40,569.65 L224.40,568.44 L225.40,567.22 L226.40,566.02 L227.40,564.82 L228.40,563.62 L229.40,562.42 L230.40,561.24 L231.40,560.05 L232.40,558.87 L233.40,557.70 L234.40,556.53 L235.40,555.36 L236.40,554.20 L237.40,553.05 L238.40,551.90 L239.40,550.75 L240.40,549.61 L241.40,548.48 L242.40,547.35 L243.40,546.23 L244.40,545.11 L245.40,543.99 L246.40,542.89 L247.40,541.78 L248.40,540.69 L249.40,539.59 L250.40,538.51 L251.40,537.42 L252.40,536.34 L253.40,535.27 L254.40,534.20 L255.40,533.14 L256.40,532.08 L257.40,531.02 L258.40,529.97 L259.40,528.92 L260.40,527.87 L261.40,526.83 L262.40,525.79 L263.40,524.75 L264.40,523.72 L265.40,522.69 L266.40,521.67 L267.40,520.64 L268.40,519.62 L269.40,518.60 L270.40,517.59 L271.40,516.57 L272.40,515.56 L273.40,514.55 L274.40,513.54 L275.40,512.54 L276.40,511.53 L277.40,510.53 L278.40,509.52 L279.40,508.52 L280.40,507.52 L281.40,506.52 L282.40,505.53 L283.40,504.53 L284.40,503.53 L285.40,502.54 L286.40,501.54 L287.40,500.54 L288.40,499.55 L289.40,498.55 L290.40,497.56 L291.40,496.56 L292.40,495.56 L293.40,494.56 L294.40,493.57 L295.40,492.57 L296.40,491.57 L297.40,490.57 L298.40,489.56 L299.40,488.56 L300.40,487.56 L301.40,486.55 L302.40,485.54 L303.40,484.53 L304.40,483.52 L305.40,482.50 L306.40,481.49 L307.40,480.47 L308.40,479.45 L309.40,478.42 L310.40,477.40 L311.40,476.37 L312.40,475.33 L313.40,474.30 L314.40,473.26 L315.40,472.22 L316.40,471.17 L317.40,470.12 L318.40,469.07 L319.40,468.01 L320.40,466.95 L321.40,465.88 L321.70,465.56 L321.70,603.35 L321.50,603.35 L320.50,603.39 L319.50,603.42 L318.50,603.47 L317.50,603.52 L316.50,603.58 L315.50,603.64 L314.50,603.71 L313.50,603.79 L312.50,603.87 L311.50,603.97 L310.50,604.07 L309.50,604.18 L308.50,604.30 L307.50,604.43 L306.50,604.56 L305.50,604.71 L304.50,604.87 L303.50,605.03 L302.50,605.21 L301.50,605.40 L300.50,605.60 L299.50,605.81 L298.50,606.03 L297.50,606.26 L296.50,606.50 L295.50,606.76 L294.50,607.03 L293.50,607.31 L292.50,607.61 L291.50,607.92 L290.50,608.24 L289.50,608.57 L288.50,608.92 L287.50,609.29 L286.50,609.67 L285.50,610.06 L284.50,610.47 L283.50,610.90 L282.50,611.34 L281.50,611.79 L280.50,612.27 L279.50,612.76 L278.50,613.26 L277.50,613.79 L276.50,614.33 L275.50,614.89 L274.50,615.46 L273.50,616.06 L272.50,616.67 L271.50,617.30 L270.50,617.94 L269.50,618.60 L268.50,619.28 L267.50,619.97 L266.50,620.68 L265.50,621.40 L264.50,622.14 L263.50,622.89 L262.50,623.66 L261.50,624.44 L260.50,625.23 L259.50,626.04 L258.50,626.86 L257.50,627.70 L256.50,628.54 L255.50,629.40 L254.50,630.27 L253.50,631.15 L252.50,632.04 L251.50,632.94 L250.50,633.86 L249.50,634.78 L248.50,635.72 L247.50,636.66 L246.50,637.62 L245.50,638.58 L244.50,639.55 L243.50,640.53 L242.50,641.52 L241.50,642.52 L240.50,643.52 L239.50,644.53 L238.50,645.55 L237.50,646.58 L236.50,647.61 L235.50,648.65 L234.50,649.69 L233.50,650.74 L232.50,651.80 L231.50,652.86 L230.50,653.93 L229.50,655.00 L228.50,656.07 L227.50,657.15 L226.50,658.23 L225.50,659.32 L224.50,660.41 L223.50,661.50 L222.50,662.59 L221.50,663.69 L220.50,664.78 L219.50,665.88 L218.50,666.98 L217.50,668.08 L216.50,669.19 L215.50,670.29 L214.50,671.39 L213.50,672.50 L212.50,673.60 L211.50,674.70 L210.50,675.81 L209.50,676.91 L208.50,678.02 L207.50,679.12 L206.50,680.23 L205.50,681.33 L204.50,682.44 L203.50,683.54 L202.50,684.65 L201.50,685.75 L200.50,686.85 L199.50,687.96 L198.50,689.06 L197.50,690.16 L196.50,691.26 L195.50,692.36 L194.50,693.46 L193.50,694.55 L192.50,695.65 L191.50,696.74 L190.50,697.84 L189.50,698.93 L188.50,700.02 L187.50,701.10 L186.50,702.19 L185.50,703.28 L184.50,704.36 L183.50,705.44 L182.50,706.52 L181.50,707.59 L180.50,708.67 L179.50,709.74 L178.50,710.81 L177.50,711.88 L176.50,712.94 L175.50,714.00 L174.50,715.06 L173.50,716.12 L172.50,717.17 L171.50,718.22 L170.50,719.27 L169.50,720.31 L168.50,721.35 L167.50,722.39 L166.50,723.42 L165.50,724.45 L164.50,725.48 L163.50,726.50 L162.50,727.52 L161.50,728.54 L160.50,729.55 L159.50,730.56 L158.50,731.56 L157.50,732.56 L156.50,733.56 L155.50,734.55 L154.50,735.54 L153.50,736.52 L152.50,737.50 L151.50,738.47 L150.50,739.44 L149.50,740.41 L148.50,741.37 L147.50,742.32 L146.50,743.28 L145.50,744.22 L144.50,745.17 L143.50,746.10 L142.50,747.04 L141.50,747.97 L140.50,748.89 L139.50,749.81 L138.50,750.72 L137.50,751.63 L136.50,752.54 L135.50,753.43 L134.50,754.33 L133.50,755.22 L132.50,756.10 L131.50,756.98 L130.50,757.85 L129.50,758.72 L128.50,759.58 L127.50,760.44 L126.50,761.29 L125.50,762.14 L124.50,762.98 L123.50,763.82 L122.50,764.65 L121.50,765.47 L120.50,766.29 L119.50,767.11 L118.50,767.91 L117.50,768.72 L116.50,769.51 L115.50,770.30 L114.50,771.09 L113.50,771.87 L112.50,772.64 L111.50,773.41 L110.50,774.17 L109.50,774.92 L108.50,775.67 L107.50,776.41 L106.50,777.15 L105.50,777.88 L104.50,778.60 L103.50,779.32 L102.50,780.03 L101.50,780.74 L100.50,781.44 L99.50,782.13 L98.50,782.81 L97.50,783.49 L96.50,784.16 L95.50,784.83 L94.50,785.49 L93.50,786.14 L92.50,786.79 L91.50,787.42 L90.50,788.06 L89.50,788.68 L88.50,789.30 L87.50,789.91 L86.50,790.51 L85.50,791.10 L84.50,791.69 L83.50,792.26 L82.50,792.83 L81.50,793.39 L80.50,793.93 L79.50,794.46 L78.50,794.98 L77.50,795.49 L76.50,795.99 L75.50,796.47 L74.50,796.95 L73.50,797.40 L72.50,797.84 L71.50,798.27 L70.50,798.68 L69.50,799.08 L68.50,799.46 L67.50,799.82 L66.50,800.17 L65.50,800.50 L64.50,800.81 L63.50,801.10 L62.50,801.38 L61.50,801.63 L60.50,801.87 L59.50,802.08 L58.50,802.28 Z" fill="#f5f5f5"/>
<path d="M58.46,798.18 L59.44,797.54 L60.42,796.88 L61.40,796.21 L62.38,795.52 L63.35,794.81 L64.33,794.10 L65.31,793.37 L66.28,792.62 L67.26,791.86 L68.23,791.08 L69.20,790.29 L70.16,789.48 L71.13,788.66 L72.10,787.83 L73.07,786.99 L74.04,786.13 L75.01,785.28 L75.99,784.41 L76.96,783.53 L77.94,782.64 L78.92,781.74 L79.89,780.83 L80.87,779.91 L81.85,778.98 L82.82,778.03 L83.80,777.08 L84.78,776.11 L85.75,775.14 L86.73,774.16 L87.71,773.17 L88.68,772.16 L89.66,771.15 L90.64,770.13 L91.61,769.10 L92.59,768.07 L93.57,767.02 L94.55,765.97 L95.53,764.92 L96.51,763.86 L97.50,762.79 L98.48,761.71 L99.46,760.63 L100.45,759.53 L101.43,758.44 L102.42,757.33 L103.40,756.22 L104.38,755.11 L105.37,753.98 L106.35,752.85 L107.34,751.72 L108.32,750.58 L109.31,749.44 L110.29,748.29 L111.27,747.13 L112.26,745.97 L113.24,744.81 L114.23,743.65 L115.23,742.48 L116.22,741.32 L117.22,740.15 L118.21,738.97 L119.20,737.80 L120.20,736.61 L121.19,735.43 L122.19,734.25 L123.18,733.06 L124.17,731.87 L125.17,730.68 L126.16,729.48 L127.16,728.29 L128.15,727.09 L129.15,725.89 L130.14,724.69 L131.14,723.49 L132.13,722.29 L133.13,721.09 L134.12,719.89 L135.12,718.68 L136.11,717.48 L137.11,716.27 L138.10,715.06 L139.10,713.86 L140.11,712.66 L141.11,711.45 L142.11,710.25 L143.12,709.05 L144.12,707.84 L145.12,706.64 L146.13,705.44 L147.13,704.23 L148.13,703.03 L149.14,701.82 L150.14,700.61 L151.15,699.41 L152.15,698.20 L153.15,697.00 L154.16,695.79 L155.16,694.58 L156.17,693.38 L157.17,692.17 L158.17,690.97 L159.18,689.76 L160.19,688.56 L161.20,687.36 L162.20,686.16 L163.21,684.96 L164.22,683.76 L165.23,682.56 L166.24,681.36 L167.24,680.17 L168.25,678.97 L169.26,677.77 L170.27,676.58 L171.28,675.38 L172.28,674.19 L173.29,673.00 L174.30,671.81 L175.31,670.62 L176.32,669.43 L177.33,668.24 L178.33,667.06 L179.34,665.87 L180.35,664.69 L181.35,663.50 L182.36,662.32 L183.37,661.14 L184.37,659.96 L185.38,658.79 L186.39,657.61 L187.39,656.44 L188.40,655.27 L189.41,654.10 L190.41,652.93 L191.42,651.77 L192.42,650.60 L193.43,649.44 L194.44,648.28 L195.44,647.13 L196.45,645.97 L197.46,644.82 L198.46,643.67 L199.47,642.52 L200.48,641.38 L201.48,640.23 L202.49,639.09 L203.50,637.95 L204.50,636.82 L205.51,635.69 L206.51,634.56 L207.52,633.43 L208.53,632.30 L209.53,631.18 L210.54,630.06 L211.55,628.95 L212.55,627.83 L213.56,626.72 L214.56,625.61 L215.57,624.51 L216.58,623.41 L217.58,622.31 L218.59,621.21 L219.60,620.12 L220.60,619.03 L221.61,617.95 L222.61,616.86 L223.61,615.78 L224.62,614.70 L225.62,613.63 L226.63,612.56 L227.63,611.49 L228.63,610.42 L229.64,609.36 L230.64,608.31 L231.64,607.25 L232.65,606.20 L233.65,605.16 L234.65,604.11 L235.66,603.08 L236.66,602.04 L237.67,601.01 L238.67,599.98 L239.68,598.96 L240.68,597.95 L241.69,596.94 L242.70,595.94 L243.71,594.93 L244.72,593.94 L245.73,592.94 L246.74,591.96 L247.74,590.97 L248.75,589.99 L249.76,589.02 L250.77,588.05 L251.78,587.08 L252.79,586.12 L253.80,585.16 L254.81,584.21 L255.81,583.26 L256.82,582.32 L257.83,581.38 L258.84,580.44 L259.85,579.51 L260.86,578.59 L261.87,577.67 L262.87,576.76 L263.88,575.85 L264.89,574.94 L265.90,574.05 L266.91,573.15 L267.92,572.27 L268.93,571.38 L269.94,570.51 L270.95,569.63 L271.96,568.77 L272.97,567.91 L273.98,567.05 L274.99,566.20 L276.00,565.36 L277.01,564.52 L278.02,563.69 L279.03,562.86 L280.04,562.04 L281.05,561.22 L282.06,560.41 L283.07,559.60 L284.08,558.81 L285.09,558.01 L286.10,557.23 L287.11,556.44 L288.11,555.67 L289.12,554.90 L290.13,554.14 L291.14,553.38 L292.15,552.63 L293.16,551.89 L294.17,551.15 L295.18,550.42 L296.20,549.70 L297.21,548.98 L298.22,548.27 L299.23,547.56 L300.24,546.87 L301.25,546.17 L302.26,545.49 L303.27,544.81 L304.28,544.14 L305.29,543.48 L306.30,542.82 L307.31,542.17 L308.32,541.52 L309.33,540.88 L310.34,540.25 L311.34,539.63 L312.35,539.01 L313.36,538.40 L314.37,537.80 L315.38,537.20 L316.39,536.61 L317.39,536.03 L318.40,535.45 L319.41,534.88 L320.42,534.32 L321.43,533.77 L321.77,534.39 L320.78,534.96 L319.79,535.54 L318.80,536.13 L317.81,536.73 L316.81,537.33 L315.82,537.94 L314.83,538.55 L313.84,539.17 L312.85,539.80 L311.86,540.44 L310.86,541.08 L309.87,541.73 L308.88,542.39 L307.89,543.06 L306.90,543.73 L305.91,544.41 L304.92,545.09 L303.93,545.78 L302.94,546.48 L301.95,547.19 L300.96,547.90 L299.97,548.61 L298.98,549.34 L297.99,550.07 L297.00,550.81 L296.02,551.55 L295.03,552.30 L294.04,553.05 L293.05,553.81 L292.06,554.58 L291.07,555.35 L290.08,556.13 L289.09,556.91 L288.09,557.70 L287.10,558.50 L286.11,559.30 L285.12,560.11 L284.13,560.92 L283.14,561.74 L282.15,562.56 L281.16,563.40 L280.17,564.23 L279.18,565.07 L278.19,565.92 L277.20,566.77 L276.21,567.63 L275.22,568.49 L274.23,569.36 L273.24,570.24 L272.25,571.12 L271.26,572.00 L270.27,572.89 L269.28,573.79 L268.29,574.69 L267.30,575.59 L266.31,576.50 L265.32,577.42 L264.33,578.34 L263.33,579.26 L262.34,580.19 L261.35,581.13 L260.36,582.07 L259.37,583.01 L258.38,583.96 L257.39,584.91 L256.39,585.87 L255.40,586.83 L254.41,587.80 L253.42,588.77 L252.43,589.75 L251.44,590.73 L250.45,591.71 L249.46,592.70 L248.46,593.70 L247.47,594.70 L246.48,595.70 L245.49,596.71 L244.50,597.72 L243.51,598.73 L242.52,599.75 L241.52,600.78 L240.53,601.80 L239.53,602.83 L238.54,603.86 L237.54,604.89 L236.55,605.93 L235.55,606.98 L234.55,608.02 L233.56,609.07 L232.56,610.13 L231.56,611.18 L230.57,612.24 L229.57,613.31 L228.57,614.38 L227.58,615.45 L226.58,616.53 L225.59,617.60 L224.59,618.69 L223.59,619.77 L222.60,620.86 L221.60,621.96 L220.61,623.06 L219.62,624.16 L218.62,625.26 L217.63,626.37 L216.64,627.48 L215.64,628.59 L214.65,629.71 L213.65,630.83 L212.66,631.95 L211.67,633.08 L210.67,634.21 L209.68,635.34 L208.69,636.47 L207.69,637.61 L206.70,638.75 L205.70,639.89 L204.71,641.04 L203.72,642.18 L202.72,643.33 L201.73,644.48 L200.74,645.64 L199.74,646.80 L198.75,647.96 L197.76,649.12 L196.76,650.28 L195.77,651.45 L194.78,652.62 L193.78,653.79 L192.79,654.96 L191.79,656.14 L190.80,657.31 L189.81,658.49 L188.81,659.67 L187.82,660.86 L186.83,662.04 L185.83,663.23 L184.84,664.42 L183.85,665.61 L182.85,666.80 L181.86,667.99 L180.87,669.19 L179.87,670.38 L178.88,671.58 L177.89,672.78 L176.90,673.98 L175.91,675.18 L174.92,676.39 L173.92,677.59 L172.93,678.80 L171.94,680.01 L170.95,681.21 L169.96,682.42 L168.96,683.63 L167.97,684.84 L166.98,686.05 L165.99,687.26 L165.00,688.48 L164.00,689.69 L163.01,690.90 L162.02,692.12 L161.03,693.33 L160.03,694.54 L159.03,695.75 L158.04,696.96 L157.04,698.18 L156.05,699.39 L155.05,700.60 L154.05,701.81 L153.06,703.03 L152.06,704.24 L151.07,705.45 L150.07,706.66 L149.07,707.87 L148.08,709.09 L147.08,710.30 L146.08,711.51 L145.09,712.72 L144.09,713.93 L143.09,715.14 L142.10,716.35 L141.10,717.55 L140.09,718.75 L139.09,719.95 L138.08,721.15 L137.08,722.35 L136.07,723.55 L135.07,724.74 L134.06,725.94 L133.06,727.13 L132.05,728.32 L131.05,729.51 L130.04,730.70 L129.04,731.89 L128.03,733.08 L127.03,734.27 L126.02,735.45 L125.01,736.64 L124.01,737.82 L123.00,738.99 L122.00,740.17 L120.99,741.34 L119.98,742.51 L118.98,743.68 L117.97,744.84 L116.97,746.00 L115.96,747.16 L114.94,748.30 L113.93,749.44 L112.91,750.58 L111.89,751.71 L110.88,752.84 L109.86,753.96 L108.85,755.08 L107.83,756.19 L106.82,757.29 L105.80,758.39 L104.78,759.49 L103.77,760.57 L102.75,761.66 L101.74,762.73 L100.72,763.80 L99.70,764.86 L98.69,765.91 L97.67,766.96 L96.65,768.00 L95.63,769.02 L94.61,770.04 L93.59,771.04 L92.56,772.04 L91.54,773.03 L90.52,774.01 L89.49,774.98 L88.47,775.95 L87.45,776.90 L86.42,777.84 L85.40,778.77 L84.38,779.69 L83.35,780.61 L82.33,781.51 L81.31,782.40 L80.28,783.28 L79.26,784.14 L78.24,785.00 L77.21,785.84 L76.19,786.68 L75.16,787.49 L74.13,788.29 L73.10,789.07 L72.07,789.84 L71.04,790.60 L70.00,791.34 L68.97,792.07 L67.94,792.78 L66.92,793.49 L65.89,794.19 L64.87,794.87 L63.85,795.53 L62.82,796.19 L61.80,796.82 L60.78,797.45 L59.76,798.05 L58.74,798.64 Z" fill="#231f20" stroke="#231f20" stroke-width="0.3"/>
<path d="M46.00,620.90 H221.80" fill="none" stroke="#231f20" stroke-width="1.25" stroke-dasharray="3.5 2.4"/>
<path d="M221.80,821.80 V620.90" fill="none" stroke="#231f20" stroke-width="1.25" stroke-dasharray="3.5 2.4"/>
<path d="M46.00,446.90 V821.80 H334.70" fill="none" stroke="#231f20" stroke-width="1.85" stroke-linejoin="round"/>
<path d="M41.60,798.90 H46.00" stroke="#231f20" stroke-width="1.4"/>
<text x="37.40" y="803.10" class="tk" text-anchor="end">0</text>
<path d="M41.60,676.35 H46.00" stroke="#231f20" stroke-width="1.4"/>
<text x="37.40" y="680.55" class="tk" text-anchor="end">100</text>
<path d="M41.60,553.80 H46.00" stroke="#231f20" stroke-width="1.4"/>
<text x="37.40" y="558.00" class="tk" text-anchor="end">200</text>
<path d="M55.00,821.80 V825.80" stroke="#231f20" stroke-width="1.7"/>
<text x="55.00" y="838.70" class="tk" text-anchor="middle">0</text>
<path d="M121.72,821.80 V825.80" stroke="#231f20" stroke-width="1.7"/>
<text x="121.72" y="838.70" class="tk" text-anchor="middle">2</text>
<path d="M188.44,821.80 V825.80" stroke="#231f20" stroke-width="1.7"/>
<text x="188.44" y="838.70" class="tk" text-anchor="middle">4</text>
<path d="M255.16,821.80 V825.80" stroke="#231f20" stroke-width="1.7"/>
<text x="255.16" y="838.70" class="tk" text-anchor="middle">6</text>
<path d="M321.88,821.80 V825.80" stroke="#231f20" stroke-width="1.7"/>
<text x="321.88" y="838.70" class="tk" text-anchor="middle">8</text>
<text x="190.14" y="853.80" class="ti" text-anchor="middle">Years since diagnosis</text>
<text transform="translate(9.00,634.50) rotate(-90)" class="ti" text-anchor="middle">Mean avoidable NPC–specific deaths/1000 patients</text>
<text x="190.50" y="539.60" class="an" text-anchor="middle">Avoidable NPC-specific deaths within five years</text>
<text x="190.50" y="550.50" class="an" text-anchor="middle">since diagnosis:</text>
<text x="190.50" y="563.70" class="an" text-anchor="middle">146 (95% CI: 107, 185)</text>
<text x="-0.40" y="450.40" class="pl">c</text>
<path d="M408.90,758.97 L409.90,758.77 L410.90,758.55 L411.90,758.28 L412.90,757.99 L413.90,757.67 L414.90,757.31 L415.90,756.92 L416.90,756.51 L417.90,756.06 L418.90,755.58 L419.90,755.08 L420.90,754.54 L421.90,753.97 L422.90,753.38 L423.90,752.76 L424.90,752.11 L425.90,751.44 L426.90,750.74 L427.90,750.01 L428.90,749.25 L429.90,748.47 L430.90,747.67 L431.90,746.83 L432.90,745.98 L433.90,745.10 L434.90,744.20 L435.90,743.27 L436.90,742.32 L437.90,741.35 L438.90,740.35 L439.90,739.34 L440.90,738.30 L441.90,737.24 L442.90,736.16 L443.90,735.06 L444.90,733.94 L445.90,732.80 L446.90,731.64 L447.90,730.46 L448.90,729.26 L449.90,728.04 L450.90,726.81 L451.90,725.56 L452.90,724.29 L453.90,723.01 L454.90,721.70 L455.90,720.39 L456.90,719.05 L457.90,717.71 L458.90,716.34 L459.90,714.96 L460.90,713.57 L461.90,712.17 L462.90,710.75 L463.90,709.32 L464.90,707.87 L465.90,706.42 L466.90,704.95 L467.90,703.47 L468.90,701.98 L469.90,700.47 L470.90,698.96 L471.90,697.44 L472.90,695.91 L473.90,694.37 L474.90,692.83 L475.90,691.28 L476.90,689.72 L477.90,688.17 L478.90,686.60 L479.90,685.04 L480.90,683.48 L481.90,681.92 L482.90,680.36 L483.90,678.80 L484.90,677.25 L485.90,675.69 L486.90,674.15 L487.90,672.61 L488.90,671.08 L489.90,669.56 L490.90,668.04 L491.90,666.54 L492.90,665.05 L493.90,663.57 L494.90,662.10 L495.90,660.65 L496.90,659.22 L497.90,657.80 L498.90,656.39 L499.90,655.01 L500.90,653.64 L501.90,652.30 L502.90,650.97 L503.90,649.67 L504.90,648.39 L505.90,647.14 L506.90,645.91 L507.90,644.71 L508.90,643.53 L509.90,642.38 L510.90,641.26 L511.90,640.17 L512.90,639.10 L513.90,638.05 L514.90,637.03 L515.90,636.04 L516.90,635.06 L517.90,634.11 L518.90,633.19 L519.90,632.28 L520.90,631.40 L521.90,630.54 L522.90,629.70 L523.90,628.88 L524.90,628.08 L525.90,627.30 L526.90,626.53 L527.90,625.79 L528.90,625.06 L529.90,624.35 L530.90,623.66 L531.90,622.98 L532.90,622.32 L533.90,621.67 L534.90,621.04 L535.90,620.42 L536.90,619.81 L537.90,619.22 L538.90,618.64 L539.90,618.07 L540.90,617.51 L541.90,616.97 L542.90,616.43 L543.90,615.90 L544.90,615.38 L545.90,614.87 L546.90,614.36 L547.90,613.86 L548.90,613.36 L549.90,612.86 L550.90,612.37 L551.90,611.88 L552.90,611.39 L553.90,610.90 L554.90,610.40 L555.90,609.91 L556.90,609.41 L557.90,608.91 L558.90,608.40 L559.90,607.89 L560.90,607.37 L561.90,606.84 L562.90,606.30 L563.90,605.76 L564.90,605.20 L565.90,604.63 L566.90,604.05 L567.90,603.46 L568.90,602.85 L569.90,602.23 L570.90,601.59 L571.90,600.94 L572.90,600.26 L573.90,599.57 L574.90,598.86 L575.90,598.13 L576.90,597.38 L577.90,596.60 L578.90,595.80 L579.90,594.98 L580.90,594.14 L581.90,593.27 L582.90,592.38 L583.90,591.47 L584.90,590.54 L585.90,589.59 L586.90,588.61 L587.90,587.62 L588.90,586.62 L589.90,585.59 L590.90,584.55 L591.90,583.49 L592.90,582.41 L593.90,581.32 L594.90,580.22 L595.90,579.10 L596.90,577.96 L597.90,576.81 L598.90,575.66 L599.90,574.48 L600.90,573.30 L601.90,572.11 L602.90,570.90 L603.90,569.69 L604.90,568.47 L605.90,567.23 L606.90,565.99 L607.90,564.74 L608.90,563.47 L609.90,562.20 L610.90,560.92 L611.90,559.63 L612.90,558.33 L613.90,557.02 L614.90,555.70 L615.90,554.38 L616.90,553.04 L617.90,551.69 L618.90,550.34 L619.90,548.98 L620.90,547.60 L621.90,546.22 L622.90,544.83 L623.90,543.43 L624.90,542.03 L625.90,540.61 L626.90,539.19 L627.90,537.75 L628.90,536.31 L629.90,534.86 L630.90,533.40 L631.90,531.94 L632.90,530.46 L633.90,528.98 L634.90,527.49 L635.90,525.99 L636.90,524.48 L637.90,522.97 L638.90,521.45 L639.90,519.92 L640.90,518.38 L641.90,516.83 L642.90,515.28 L643.90,513.72 L644.90,512.15 L645.90,510.58 L646.90,509.00 L647.90,507.41 L648.90,505.81 L649.90,504.20 L650.90,502.59 L651.90,500.97 L652.90,499.35 L653.90,497.71 L654.90,496.08 L655.90,494.43 L656.90,492.78 L657.90,491.12 L658.90,489.45 L659.90,487.78 L660.90,486.10 L661.90,484.41 L662.90,482.72 L663.90,481.02 L664.90,479.31 L665.90,477.60 L666.90,475.88 L667.90,474.16 L668.90,472.43 L669.90,470.69 L670.90,468.95 L671.70,467.55 L671.60,702.67 L670.90,703.08 L669.90,703.68 L668.90,704.29 L667.90,704.90 L666.90,705.52 L665.90,706.14 L664.90,706.77 L663.90,707.40 L662.90,708.04 L661.90,708.69 L660.90,709.33 L659.90,709.99 L658.90,710.65 L657.90,711.31 L656.90,711.97 L655.90,712.64 L654.90,713.32 L653.90,714.00 L652.90,714.68 L651.90,715.36 L650.90,716.04 L649.90,716.73 L648.90,717.42 L647.90,718.12 L646.90,718.81 L645.90,719.51 L644.90,720.21 L643.90,720.91 L642.90,721.61 L641.90,722.31 L640.90,723.01 L639.90,723.71 L638.90,724.42 L637.90,725.12 L636.90,725.82 L635.90,726.53 L634.90,727.23 L633.90,727.93 L632.90,728.63 L631.90,729.33 L630.90,730.03 L629.90,730.72 L628.90,731.42 L627.90,732.11 L626.90,732.80 L625.90,733.49 L624.90,734.18 L623.90,734.86 L622.90,735.54 L621.90,736.22 L620.90,736.89 L619.90,737.56 L618.90,738.23 L617.90,738.89 L616.90,739.55 L615.90,740.21 L614.90,740.86 L613.90,741.50 L612.90,742.14 L611.90,742.78 L610.90,743.41 L609.90,744.03 L608.90,744.65 L607.90,745.26 L606.90,745.87 L605.90,746.47 L604.90,747.06 L603.90,747.64 L602.90,748.22 L601.90,748.79 L600.90,749.36 L599.90,749.92 L598.90,750.46 L597.90,751.01 L596.90,751.54 L595.90,752.06 L594.90,752.58 L593.90,753.09 L592.90,753.58 L591.90,754.07 L590.90,754.55 L589.90,755.02 L588.90,755.48 L587.90,755.93 L586.90,756.37 L585.90,756.80 L584.90,757.21 L583.90,757.62 L582.90,758.02 L581.90,758.40 L580.90,758.78 L579.90,759.14 L578.90,759.49 L577.90,759.83 L576.90,760.15 L575.90,760.46 L574.90,760.76 L573.90,761.05 L572.90,761.33 L571.90,761.59 L570.90,761.83 L569.90,762.07 L568.90,762.29 L567.90,762.49 L566.90,762.68 L565.90,762.86 L564.90,763.02 L563.90,763.17 L562.90,763.30 L561.90,763.42 L560.90,763.52 L559.90,763.60 L558.90,763.67 L557.90,763.73 L556.90,763.76 L555.90,763.78 L554.90,763.79 L553.90,763.77 L552.90,763.74 L551.90,763.70 L550.90,763.64 L549.90,763.56 L548.90,763.48 L547.90,763.39 L546.90,763.29 L545.90,763.19 L544.90,763.08 L543.90,762.97 L542.90,762.85 L541.90,762.74 L540.90,762.63 L539.90,762.53 L538.90,762.43 L537.90,762.34 L536.90,762.25 L535.90,762.18 L534.90,762.12 L533.90,762.07 L532.90,762.04 L531.90,762.02 L530.90,762.02 L529.90,762.04 L528.90,762.09 L527.90,762.15 L526.90,762.24 L525.90,762.36 L524.90,762.51 L523.90,762.67 L522.90,762.87 L521.90,763.08 L520.90,763.32 L519.90,763.58 L518.90,763.87 L517.90,764.18 L516.90,764.50 L515.90,764.85 L514.90,765.22 L513.90,765.61 L512.90,766.02 L511.90,766.44 L510.90,766.89 L509.90,767.35 L508.90,767.83 L507.90,768.32 L506.90,768.83 L505.90,769.36 L504.90,769.89 L503.90,770.45 L502.90,771.02 L501.90,771.60 L500.90,772.19 L499.90,772.79 L498.90,773.41 L497.90,774.04 L496.90,774.67 L495.90,775.32 L494.90,775.97 L493.90,776.64 L492.90,777.31 L491.90,777.99 L490.90,778.68 L489.90,779.37 L488.90,780.07 L487.90,780.77 L486.90,781.48 L485.90,782.19 L484.90,782.91 L483.90,783.63 L482.90,784.35 L481.90,785.07 L480.90,785.80 L479.90,786.52 L478.90,787.25 L477.90,787.97 L476.90,788.69 L475.90,789.40 L474.90,790.11 L473.90,790.81 L472.90,791.51 L471.90,792.20 L470.90,792.88 L469.90,793.55 L468.90,794.21 L467.90,794.86 L466.90,795.49 L465.90,796.11 L464.90,796.72 L463.90,797.31 L462.90,797.88 L461.90,798.44 L460.90,798.97 L459.90,799.49 L458.90,799.99 L457.90,800.47 L456.90,800.92 L455.90,801.35 L454.90,801.75 L453.90,802.13 L452.90,802.49 L451.90,802.81 L450.90,803.11 L449.90,803.38 L448.90,803.62 L447.90,803.83 L446.90,804.00 L445.90,804.14 L444.90,804.25 L443.90,804.32 L442.90,804.36 L441.90,804.36 L440.90,804.32 L439.90,804.24 L438.90,804.12 L437.90,803.96 L436.90,803.75 L435.90,803.50 L434.90,803.20 L433.90,802.85 L432.90,802.45 L431.90,802.00 L430.90,801.49 L429.90,800.93 L428.90,800.31 L427.90,799.63 L426.90,798.89 L425.90,798.08 L424.90,797.22 L423.90,796.29 L422.90,795.29 L421.90,794.22 L420.90,793.08 L419.90,791.87 L418.90,790.58 L417.90,789.23 L416.90,787.79 L415.90,786.27 L414.90,784.68 L413.90,783.00 L412.90,781.24 L411.90,779.39 L410.90,777.46 L409.90,775.44 L408.90,773.33 Z" fill="#f5f5f5"/>
<path d="M408.90,766.18 L409.90,766.93 L410.90,767.64 L411.90,768.29 L412.90,768.90 L413.90,769.46 L414.90,769.98 L415.90,770.44 L416.90,770.86 L417.90,771.24 L418.90,771.57 L419.90,771.85 L420.90,772.09 L421.90,772.28 L422.90,772.44 L423.90,772.55 L424.90,772.62 L425.90,772.66 L426.90,772.65 L427.90,772.60 L428.90,772.51 L429.90,772.38 L430.90,772.22 L431.90,772.02 L432.90,771.79 L433.90,771.52 L434.90,771.22 L435.90,770.89 L436.90,770.52 L437.90,770.12 L438.90,769.70 L439.90,769.24 L440.90,768.76 L441.90,768.25 L442.90,767.71 L443.90,767.14 L444.90,766.54 L445.90,765.92 L446.90,765.28 L447.90,764.60 L448.90,763.91 L449.90,763.19 L450.90,762.45 L451.90,761.68 L452.90,760.90 L453.90,760.09 L454.90,759.27 L455.90,758.42 L456.90,757.56 L457.90,756.67 L458.90,755.77 L459.90,754.86 L460.90,753.93 L461.90,752.99 L462.90,752.04 L463.90,751.07 L464.90,750.09 L465.90,749.09 L466.90,748.08 L467.90,747.07 L468.90,746.04 L469.90,745.00 L470.90,743.94 L471.90,742.88 L472.90,741.80 L473.90,740.72 L474.90,739.64 L475.90,738.54 L476.90,737.44 L477.90,736.34 L478.90,735.23 L479.90,734.12 L480.90,733.01 L481.90,731.89 L482.90,730.78 L483.90,729.66 L484.90,728.55 L485.90,727.43 L486.90,726.32 L487.90,725.21 L488.90,724.10 L489.90,723.00 L490.90,721.89 L491.90,720.77 L492.90,719.65 L493.90,718.54 L494.90,717.43 L495.90,716.33 L496.90,715.25 L497.90,714.16 L498.90,713.09 L499.90,712.03 L500.90,710.99 L501.90,709.94 L502.90,708.91 L503.90,707.88 L504.90,706.88 L505.90,705.88 L506.90,704.91 L507.90,703.94 L508.90,703.00 L509.90,702.07 L510.90,701.16 L511.90,700.30 L512.90,699.47 L513.90,698.66 L514.90,697.86 L515.90,697.09 L516.90,696.34 L517.90,695.62 L518.90,694.91 L519.90,694.23 L520.90,693.58 L521.90,692.97 L522.90,692.40 L523.90,691.85 L524.90,691.33 L525.90,690.83 L526.90,690.35 L527.90,689.89 L528.90,689.45 L529.90,689.03 L530.90,688.63 L531.90,688.24 L532.90,687.88 L533.90,687.53 L534.90,687.18 L535.90,686.85 L536.90,686.53 L537.90,686.23 L538.90,685.93 L539.90,685.65 L540.90,685.38 L541.90,685.11 L542.90,684.85 L543.90,684.60 L544.90,684.36 L545.90,684.12 L546.90,683.89 L547.90,683.66 L548.90,683.43 L549.90,683.21 L550.90,682.98 L551.90,682.76 L552.90,682.54 L553.90,682.31 L554.90,682.08 L555.90,681.85 L556.90,681.62 L557.90,681.38 L558.90,681.13 L559.90,680.88 L560.90,680.62 L561.90,680.36 L562.90,680.08 L563.90,679.78 L564.90,679.47 L565.90,679.15 L566.90,678.83 L567.90,678.48 L568.90,678.13 L569.90,677.77 L570.90,677.40 L571.90,677.01 L572.90,676.60 L573.90,676.19 L574.90,675.75 L575.90,675.31 L576.90,674.85 L577.90,674.39 L578.90,673.90 L579.90,673.41 L580.90,672.90 L581.90,672.38 L582.90,671.84 L583.90,671.29 L584.90,670.73 L585.90,670.15 L586.90,669.54 L587.90,668.92 L588.90,668.28 L589.90,667.62 L590.90,666.95 L591.90,666.26 L592.90,665.56 L593.90,664.84 L594.90,664.10 L595.90,663.35 L596.90,662.58 L597.90,661.80 L598.90,661.00 L599.90,660.18 L600.90,659.34 L601.90,658.49 L602.90,657.64 L603.90,656.78 L604.90,655.91 L605.90,655.01 L606.90,654.10 L607.90,653.18 L608.90,652.24 L609.90,651.29 L610.90,650.32 L611.90,649.34 L612.90,648.34 L613.90,647.33 L614.90,646.31 L615.90,645.28 L616.90,644.23 L617.90,643.18 L618.90,642.11 L619.90,641.03 L620.90,639.94 L621.90,638.84 L622.90,637.74 L623.90,636.62 L624.90,635.50 L625.90,634.36 L626.90,633.23 L627.90,632.08 L628.90,630.93 L629.90,629.77 L630.90,628.61 L631.90,627.44 L632.90,626.27 L633.90,625.09 L634.90,623.92 L635.90,622.75 L636.90,621.58 L637.90,620.41 L638.90,619.23 L639.90,618.05 L640.90,616.87 L641.90,615.69 L642.90,614.51 L643.90,613.33 L644.90,612.15 L645.90,610.98 L646.90,609.80 L647.90,608.63 L648.90,607.46 L649.90,606.29 L650.90,605.13 L651.90,603.97 L652.90,602.82 L653.90,601.67 L654.90,600.53 L655.90,599.39 L656.90,598.26 L657.90,597.14 L658.90,596.02 L659.90,594.91 L660.90,593.81 L661.90,592.72 L662.90,591.64 L663.90,590.56 L664.90,589.50 L665.90,588.44 L666.90,587.42 L667.90,586.43 L668.90,585.46 L669.90,584.50 L670.90,583.55 L671.60,582.89 L671.60,592.79 L670.90,593.52 L669.90,594.56 L668.90,595.62 L667.90,596.69 L666.90,597.77 L665.90,598.84 L664.90,599.90 L663.90,600.96 L662.90,602.04 L661.90,603.12 L660.90,604.21 L659.90,605.31 L658.90,606.42 L657.90,607.54 L656.90,608.66 L655.90,609.79 L654.90,610.93 L653.90,612.07 L652.90,613.22 L651.90,614.37 L650.90,615.53 L649.90,616.69 L648.90,617.85 L647.90,619.01 L646.90,620.18 L645.90,621.35 L644.90,622.52 L643.90,623.69 L642.90,624.87 L641.90,626.04 L640.90,627.21 L639.90,628.39 L638.90,629.56 L637.90,630.73 L636.90,631.90 L635.90,633.06 L634.90,634.23 L633.90,635.39 L632.90,636.53 L631.90,637.67 L630.90,638.81 L629.90,639.94 L628.90,641.06 L627.90,642.18 L626.90,643.30 L625.90,644.41 L624.90,645.51 L623.90,646.60 L622.90,647.68 L621.90,648.76 L620.90,649.83 L619.90,650.88 L618.90,651.93 L617.90,652.97 L616.90,654.00 L615.90,655.02 L614.90,656.03 L613.90,657.03 L612.90,658.01 L611.90,658.98 L610.90,659.94 L609.90,660.88 L608.90,661.81 L607.90,662.72 L606.90,663.62 L605.90,664.51 L604.90,665.38 L603.90,666.23 L602.90,667.06 L601.90,667.87 L600.90,668.65 L599.90,669.40 L598.90,670.14 L597.90,670.86 L596.90,671.56 L595.90,672.25 L594.90,672.92 L593.90,673.57 L592.90,674.21 L591.90,674.83 L590.90,675.44 L589.90,676.03 L588.90,676.60 L587.90,677.16 L586.90,677.71 L585.90,678.24 L584.90,678.78 L583.90,679.30 L582.90,679.81 L581.90,680.30 L580.90,680.78 L579.90,681.25 L578.90,681.70 L577.90,682.14 L576.90,682.57 L575.90,682.98 L574.90,683.38 L573.90,683.77 L572.90,684.15 L571.90,684.52 L570.90,684.88 L569.90,685.23 L568.90,685.57 L567.90,685.90 L566.90,686.21 L565.90,686.52 L564.90,686.82 L563.90,687.10 L562.90,687.38 L561.90,687.66 L560.90,687.92 L559.90,688.18 L558.90,688.43 L557.90,688.68 L556.90,688.92 L555.90,689.15 L554.90,689.38 L553.90,689.61 L552.90,689.84 L551.90,690.06 L550.90,690.28 L549.90,690.51 L548.90,690.73 L547.90,690.96 L546.90,691.19 L545.90,691.42 L544.90,691.66 L543.90,691.90 L542.90,692.15 L541.90,692.41 L540.90,692.68 L539.90,692.95 L538.90,693.23 L537.90,693.53 L536.90,693.83 L535.90,694.15 L534.90,694.48 L533.90,694.83 L532.90,695.19 L531.90,695.58 L530.90,695.98 L529.90,696.39 L528.90,696.83 L527.90,697.28 L526.90,697.76 L525.90,698.25 L524.90,698.77 L523.90,699.31 L522.90,699.87 L521.90,700.46 L520.90,701.06 L519.90,701.67 L518.90,702.30 L517.90,702.95 L516.90,703.63 L515.90,704.33 L514.90,705.05 L513.90,705.79 L512.90,706.56 L511.90,707.34 L510.90,708.14 L509.90,708.92 L508.90,709.72 L507.90,710.54 L506.90,711.37 L505.90,712.22 L504.90,713.09 L503.90,713.97 L502.90,714.86 L501.90,715.77 L500.90,716.69 L499.90,717.63 L498.90,718.58 L497.90,719.54 L496.90,720.51 L495.90,721.49 L494.90,722.48 L493.90,723.48 L492.90,724.49 L491.90,725.50 L490.90,726.51 L489.90,727.56 L488.90,728.61 L487.90,729.67 L486.90,730.74 L485.90,731.80 L484.90,732.87 L483.90,733.93 L482.90,735.00 L481.90,736.07 L480.90,737.13 L479.90,738.20 L478.90,739.26 L477.90,740.32 L476.90,741.37 L475.90,742.42 L474.90,743.47 L473.90,744.50 L472.90,745.54 L471.90,746.56 L470.90,747.58 L469.90,748.59 L468.90,749.60 L467.90,750.60 L466.90,751.59 L465.90,752.57 L464.90,753.53 L463.90,754.48 L462.90,755.42 L461.90,756.35 L460.90,757.26 L459.90,758.15 L458.90,759.03 L457.90,759.88 L456.90,760.72 L455.90,761.54 L454.90,762.34 L453.90,763.12 L452.90,763.88 L451.90,764.62 L450.90,765.34 L449.90,766.04 L448.90,766.71 L447.90,767.36 L446.90,767.99 L445.90,768.59 L444.90,769.17 L443.90,769.72 L442.90,770.24 L441.90,770.73 L440.90,771.20 L439.90,771.64 L438.90,772.05 L437.90,772.43 L436.90,772.77 L435.90,773.08 L434.90,773.35 L433.90,773.60 L432.90,773.81 L431.90,773.99 L430.90,774.13 L429.90,774.23 L428.90,774.30 L427.90,774.33 L426.90,774.33 L425.90,774.29 L424.90,774.22 L423.90,774.10 L422.90,773.95 L421.90,773.75 L420.90,773.51 L419.90,773.23 L418.90,772.90 L417.90,772.53 L416.90,772.12 L415.90,771.67 L414.90,771.17 L413.90,770.63 L412.90,770.03 L411.90,769.39 L410.90,768.70 L409.90,767.96 L408.90,767.18 Z" fill="#231f20" stroke="#231f20" stroke-width="0.2"/>
<path d="M396.10,680.00 H572.10" fill="none" stroke="#231f20" stroke-width="1.25" stroke-dasharray="3.5 2.4"/>
<path d="M572.10,821.90 V680.00" fill="none" stroke="#231f20" stroke-width="1.25" stroke-dasharray="3.5 2.4"/>
<path d="M396.10,447.10 V821.90 H685.50" fill="none" stroke="#231f20" stroke-width="1.85" stroke-linejoin="round"/>
<path d="M391.70,762.60 H396.10" stroke="#231f20" stroke-width="1.4"/>
<text x="387.90" y="766.80" class="tk" text-anchor="end">0</text>
<path d="M391.70,648.55 H396.10" stroke="#231f20" stroke-width="1.4"/>
<text x="387.90" y="652.75" class="tk" text-anchor="end">50</text>
<path d="M391.70,534.50 H396.10" stroke="#231f20" stroke-width="1.4"/>
<text x="387.90" y="538.70" class="tk" text-anchor="end">100</text>
<path d="M405.10,821.90 V825.90" stroke="#231f20" stroke-width="1.7"/>
<text x="405.10" y="838.80" class="tk" text-anchor="middle">0</text>
<path d="M471.82,821.90 V825.90" stroke="#231f20" stroke-width="1.7"/>
<text x="471.82" y="838.80" class="tk" text-anchor="middle">2</text>
<path d="M538.54,821.90 V825.90" stroke="#231f20" stroke-width="1.7"/>
<text x="538.54" y="838.80" class="tk" text-anchor="middle">4</text>
<path d="M605.26,821.90 V825.90" stroke="#231f20" stroke-width="1.7"/>
<text x="605.26" y="838.80" class="tk" text-anchor="middle">6</text>
<path d="M671.98,821.90 V825.90" stroke="#231f20" stroke-width="1.7"/>
<text x="671.98" y="838.80" class="tk" text-anchor="middle">8</text>
<text x="540.24" y="853.90" class="ti" text-anchor="middle">Years since diagnosis</text>
<text transform="translate(360.10,634.50) rotate(-90)" class="ti" text-anchor="middle">Mean avoidable NPC–specific deaths/1000 patients</text>
<text x="539.20" y="520.00" class="an" text-anchor="middle">Avoidable NPC-specific deaths within five years</text>
<text x="539.20" y="531.10" class="an" text-anchor="middle">since diagnosis:</text>
<text x="539.20" y="544.10" class="an" text-anchor="middle">36 (95% CI: –1, 73)</text>
<text x="353.00" y="450.40" class="pl">d</text>
</svg>
</body></html>
